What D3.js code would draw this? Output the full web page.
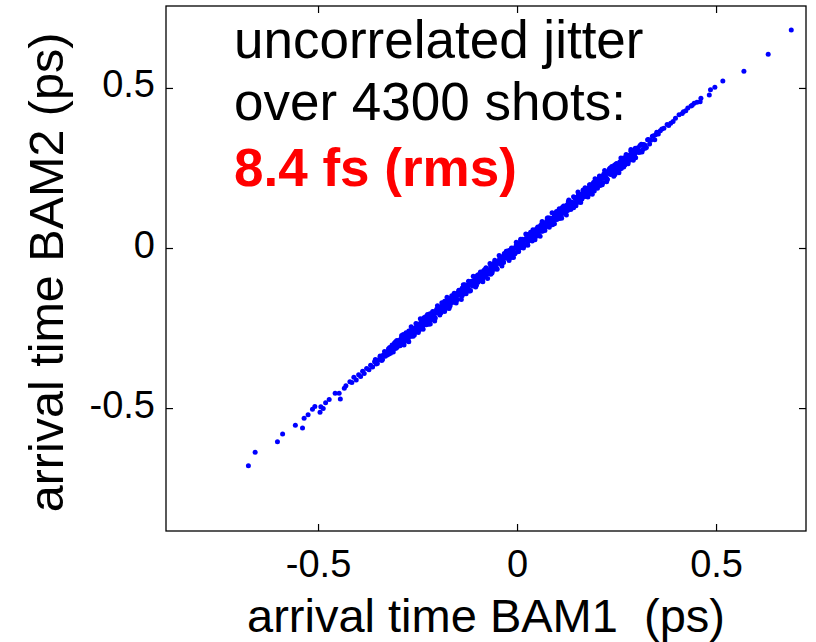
<!DOCTYPE html>
<html>
<head>
<meta charset="utf-8">
<script src="https://cdn.jsdelivr.net/npm/d3@7"></script>
<style>
  body { margin: 0; background: #fff; }
  svg { display: block; font-family: "Liberation Sans", Arial, Helvetica, sans-serif; }
</style>
</head>
<body>
<div id="chart"></div>
<script>
// arrival time BAM1 (ps), one value per plotted shot
const bam1 = [
  // lower tail
  -0.675,-0.658,-0.602,-0.589,-0.557,-0.539,-0.535,-0.525,-0.514,-0.508,-0.495,-0.493,-0.487,-0.481,-0.472,-0.457,-0.444,-0.447,-0.434,-0.430,-0.420,
  -0.415,-0.410,-0.404,-0.398,-0.393,-0.388,-0.384,-0.378,-0.372,-0.368,-0.363,-0.358,-0.354,-0.349,-0.344,-0.340,-0.336,-0.331,-0.327,-0.322,-0.318,-0.314,-0.309,-0.305,-0.301,
  // core
  -0.298,-0.295,-0.293,-0.289,-0.286,-0.284,-0.281,-0.277,-0.275,-0.272,
  -0.269,-0.266,-0.264,-0.260,-0.257,-0.255,-0.252,-0.248,-0.246,-0.243,
  -0.240,-0.237,-0.235,-0.231,-0.228,-0.226,-0.223,-0.219,-0.217,-0.214,
  -0.211,-0.208,-0.206,-0.202,-0.199,-0.197,-0.194,-0.190,-0.188,-0.185,
  -0.182,-0.179,-0.177,-0.173,-0.170,-0.168,-0.165,-0.161,-0.159,-0.156,
  -0.153,-0.150,-0.148,-0.144,-0.141,-0.139,-0.136,-0.132,-0.130,-0.127,
  -0.124,-0.121,-0.119,-0.115,-0.112,-0.110,-0.107,-0.103,-0.101,-0.098,
  -0.095,-0.092,-0.090,-0.086,-0.083,-0.081,-0.078,-0.074,-0.072,-0.069,
  -0.066,-0.063,-0.061,-0.057,-0.054,-0.052,-0.049,-0.045,-0.043,-0.040,
  -0.037,-0.034,-0.032,-0.028,-0.025,-0.023,-0.020,-0.016,-0.014,-0.011,
  -0.008,-0.005,-0.003,0.001,0.004,0.006,0.009,0.013,0.015,0.018,
  0.021,0.024,0.026,0.030,0.033,0.035,0.038,0.042,0.044,0.047,
  0.050,0.053,0.055,0.059,0.062,0.064,0.067,0.071,0.073,0.076,
  0.079,0.082,0.084,0.088,0.091,0.093,0.096,0.100,0.102,0.105,
  0.108,0.111,0.113,0.117,0.120,0.122,0.125,0.129,0.131,0.134,
  0.137,0.140,0.142,0.146,0.149,0.151,0.154,0.158,0.160,0.163,
  0.166,0.169,0.171,0.175,0.178,0.180,0.183,0.187,0.189,0.192,
  0.195,0.198,0.200,0.204,0.207,0.209,0.212,0.216,0.218,0.221,
  0.224,0.227,0.229,0.233,0.236,0.238,0.241,0.245,0.247,0.250,
  0.253,0.256,0.258,0.262,0.265,0.267,0.270,0.274,0.276,0.279,
  0.282,0.285,0.287,0.291,0.294,0.296,0.299,
  -0.327,-0.323,-0.318,-0.315,-0.309,-0.305,-0.300,-0.296,
  -0.291,-0.287,-0.282,-0.279,-0.273,-0.269,-0.264,-0.260,
  -0.255,-0.251,-0.246,-0.243,-0.237,-0.233,-0.228,-0.224,
  -0.219,-0.215,-0.210,-0.207,-0.201,-0.197,-0.192,-0.188,
  -0.183,-0.179,-0.174,-0.171,-0.165,-0.161,-0.156,-0.152,
  -0.147,-0.143,-0.138,-0.135,-0.129,-0.125,-0.120,-0.116,
  -0.111,-0.107,-0.102,-0.099,-0.093,-0.089,-0.084,-0.080,
  -0.075,-0.071,-0.066,-0.063,-0.057,-0.053,-0.048,-0.044,
  -0.039,-0.035,-0.030,-0.027,-0.021,-0.017,-0.012,-0.008,
  -0.003,0.001,0.006,0.009,0.015,0.019,0.024,0.028,
  0.033,0.037,0.042,0.045,0.051,0.055,0.060,0.064,
  0.069,0.073,0.078,0.081,0.087,0.091,0.096,0.100,
  0.105,0.109,0.114,0.117,0.123,0.127,0.132,0.136,
  0.141,0.145,0.150,0.153,0.159,0.163,0.168,0.172,
  0.177,0.181,0.186,0.189,0.195,0.199,0.204,0.208,
  0.213,0.217,0.222,0.225,0.231,0.235,0.240,0.244,
  0.249,0.253,0.258,0.261,0.267,0.271,0.276,0.280,
  0.285,0.289,0.294,0.297,0.303,0.307,0.312,0.316,
  0.321,0.325,
  -0.318,-0.314,-0.311,-0.306,-0.302,-0.298,-0.294,-0.291,-0.286,-0.282,
  -0.278,-0.274,-0.271,-0.266,-0.262,-0.258,-0.254,-0.251,-0.246,-0.242,
  -0.238,-0.234,-0.231,-0.226,-0.222,-0.218,-0.214,-0.211,-0.206,-0.202,
  -0.198,-0.194,-0.191,-0.186,-0.182,-0.178,-0.174,-0.171,-0.166,-0.162,
  -0.158,-0.154,-0.151,-0.146,-0.142,-0.138,-0.134,-0.131,-0.126,-0.122,
  -0.118,-0.114,-0.111,-0.106,-0.102,-0.098,-0.094,-0.091,-0.086,-0.082,
  -0.078,-0.074,-0.071,-0.066,-0.062,-0.058,-0.054,-0.051,-0.046,-0.042,
  -0.038,-0.034,-0.031,-0.026,-0.022,-0.018,-0.014,-0.011,-0.006,-0.002,
  0.002,0.006,0.009,0.014,0.018,0.022,0.026,0.029,0.034,0.038,
  0.042,0.046,0.049,0.054,0.058,0.062,0.066,0.069,0.074,0.078,
  0.082,0.086,0.089,0.094,0.098,0.102,0.106,0.109,0.114,0.118,
  0.122,0.126,0.129,0.134,0.138,0.142,0.146,0.149,0.154,0.158,
  0.162,0.166,0.169,0.174,0.178,0.182,0.186,0.189,0.194,0.198,
  0.202,0.206,0.209,0.214,0.218,0.222,0.226,0.229,0.234,0.238,
  0.242,0.246,0.249,0.254,0.258,0.262,0.266,0.269,0.274,0.278,
  0.282,0.286,0.289,0.294,0.298,0.302,0.306,0.309,0.314,0.318,
  // band edges
  -0.356,-0.351,-0.344,-0.338,-0.333,-0.326,-0.320,-0.315,-0.308,-0.302,-0.297,
  -0.290,-0.284,-0.279,-0.272,-0.266,-0.261,-0.254,-0.248,-0.243,-0.236,-0.230,
  -0.225,-0.218,-0.212,-0.207,-0.200,-0.194,-0.189,-0.182,-0.176,-0.171,-0.164,
  -0.158,-0.153,-0.146,-0.140,-0.135,-0.128,-0.122,-0.117,-0.110,-0.104,-0.099,
  -0.092,-0.086,-0.081,-0.074,-0.068,-0.063,-0.056,-0.050,-0.045,-0.038,-0.032,
  -0.027,-0.020,-0.014,-0.009,-0.002,0.004,0.009,0.016,0.022,0.027,0.034,
  0.040,0.045,0.052,0.058,0.063,0.070,0.076,0.081,0.088,0.094,0.099,
  0.106,0.112,0.117,0.124,0.130,0.135,0.142,0.148,0.153,0.160,0.166,
  0.171,0.178,0.184,0.189,0.196,0.202,0.207,0.214,0.220,0.225,0.232,
  0.238,0.243,0.250,0.256,0.261,0.268,0.274,0.279,0.286,0.292,0.297,
  0.304,0.310,0.315,0.322,0.328,0.333,0.340,0.346,0.351,
  // upper tail
  0.330,0.336,0.342,0.348,0.355,0.360,0.364,0.377,0.381,0.392,0.398,0.415,0.418,0.424,0.429,0.440,0.445,0.452,
  0.369,0.386,0.407,0.437,0.462,0.460,0.483,0.486,0.497,0.517,0.570,0.631,0.689
];
// arrival time BAM2 (ps), same shots
const bam2 = [
  -0.680,-0.638,-0.605,-0.581,-0.554,-0.562,-0.532,-0.521,-0.504,-0.495,-0.513,-0.496,-0.501,-0.483,-0.473,-0.454,-0.472,-0.454,-0.438,-0.430,-0.418,
  -0.420,-0.404,-0.412,-0.396,-0.401,-0.385,-0.392,-0.376,-0.380,-0.366,-0.372,-0.355,-0.362,-0.350,-0.340,-0.351,-0.334,-0.338,-0.325,-0.331,-0.316,-0.322,-0.305,-0.314,-0.300,
  -0.292,-0.304,-0.291,-0.278,-0.290,-0.296,-0.274,-0.277,-0.281,-0.259,
  -0.266,-0.276,-0.255,-0.262,-0.264,-0.250,-0.240,-0.259,-0.245,-0.235,
  -0.245,-0.250,-0.231,-0.221,-0.231,-0.220,-0.231,-0.205,-0.218,-0.223,
  -0.204,-0.206,-0.218,-0.191,-0.203,-0.194,-0.185,-0.196,-0.188,-0.195,
  -0.176,-0.188,-0.175,-0.162,-0.174,-0.180,-0.158,-0.161,-0.165,-0.143,
  -0.150,-0.160,-0.139,-0.146,-0.148,-0.134,-0.124,-0.143,-0.129,-0.119,
  -0.129,-0.134,-0.115,-0.105,-0.115,-0.104,-0.115,-0.089,-0.102,-0.107,
  -0.088,-0.090,-0.102,-0.075,-0.087,-0.078,-0.069,-0.080,-0.072,-0.079,
  -0.060,-0.072,-0.059,-0.046,-0.058,-0.064,-0.042,-0.045,-0.049,-0.027,
  -0.034,-0.044,-0.023,-0.030,-0.032,-0.018,-0.008,-0.027,-0.013,-0.003,
  -0.013,-0.018,0.001,0.011,0.001,0.012,0.001,0.027,0.014,0.009,
  0.028,0.026,0.014,0.041,0.029,0.038,0.047,0.036,0.044,0.037,
  0.056,0.044,0.057,0.070,0.058,0.052,0.074,0.071,0.067,0.089,
  0.082,0.072,0.093,0.086,0.084,0.098,0.108,0.089,0.103,0.113,
  0.103,0.098,0.117,0.127,0.117,0.128,0.117,0.143,0.130,0.125,
  0.144,0.142,0.130,0.157,0.145,0.154,0.163,0.152,0.160,0.153,
  0.172,0.160,0.173,0.186,0.174,0.168,0.190,0.187,0.183,0.205,
  0.198,0.188,0.209,0.202,0.200,0.214,0.224,0.205,0.219,0.229,
  0.219,0.214,0.233,0.243,0.233,0.244,0.233,0.259,0.246,0.241,
  0.260,0.258,0.246,0.273,0.261,0.270,0.279,0.268,0.276,0.269,
  0.288,0.276,0.289,0.302,0.290,0.284,0.306,
  -0.330,-0.315,-0.329,-0.310,-0.309,-0.293,-0.307,-0.298,
  -0.282,-0.300,-0.278,-0.278,-0.281,-0.259,-0.269,-0.254,
  -0.256,-0.238,-0.255,-0.240,-0.241,-0.222,-0.240,-0.217,
  -0.225,-0.213,-0.201,-0.217,-0.201,-0.192,-0.195,-0.176,
  -0.191,-0.178,-0.185,-0.165,-0.161,-0.164,-0.148,-0.163,
  -0.142,-0.143,-0.126,-0.142,-0.131,-0.116,-0.133,-0.112,
  -0.110,-0.115,-0.092,-0.104,-0.087,-0.090,-0.071,-0.089,
  -0.072,-0.075,-0.055,-0.075,-0.050,-0.059,-0.046,-0.035,
  -0.049,-0.035,-0.025,-0.030,-0.009,-0.025,-0.011,-0.019,
  0.003,0.005,0.003,0.017,0.004,0.024,0.024,0.040,
  0.026,0.035,0.051,0.032,0.055,0.056,0.052,0.074,
  0.064,0.079,0.077,0.094,0.078,0.094,0.092,0.111,
  0.093,0.116,0.108,0.119,0.132,0.117,0.132,0.141,
  0.138,0.157,0.142,0.154,0.148,0.169,0.172,0.169,
  0.185,0.170,0.191,0.189,0.207,0.192,0.202,0.217,
  0.200,0.221,0.223,0.217,0.241,0.230,0.246,0.243,
  0.262,0.244,0.261,0.257,0.278,0.259,0.283,0.274,
  0.287,0.298,0.284,0.297,0.308,0.304,0.324,0.308,
  0.322,0.314,
  -0.326,-0.303,-0.325,-0.301,-0.289,-0.301,-0.305,-0.283,-0.270,-0.288,
  -0.276,-0.290,-0.261,-0.274,-0.251,-0.272,-0.249,-0.238,-0.249,-0.253,
  -0.230,-0.218,-0.237,-0.224,-0.238,-0.208,-0.222,-0.200,-0.220,-0.197,
  -0.185,-0.197,-0.202,-0.178,-0.166,-0.184,-0.172,-0.187,-0.156,-0.170,
  -0.147,-0.168,-0.146,-0.133,-0.145,-0.149,-0.126,-0.115,-0.132,-0.120,
  -0.134,-0.104,-0.119,-0.095,-0.116,-0.093,-0.081,-0.094,-0.097,-0.074,
  -0.062,-0.080,-0.069,-0.082,-0.052,-0.066,-0.043,-0.065,-0.041,-0.029,
  -0.041,-0.045,-0.023,-0.010,-0.028,-0.016,-0.030,-0.001,-0.014,0.009,
  -0.012,0.011,0.022,0.011,0.007,0.030,0.042,0.023,0.036,0.022,
  0.052,0.038,0.060,0.040,0.063,0.075,0.063,0.058,0.082,0.094,
  0.076,0.088,0.073,0.104,0.090,0.113,0.092,0.114,0.127,0.115,
  0.111,0.134,0.145,0.128,0.140,0.126,0.156,0.141,0.165,0.144,
  0.167,0.179,0.166,0.163,0.186,0.198,0.180,0.191,0.178,0.208,
  0.194,0.217,0.195,0.219,0.231,0.219,0.215,0.237,0.250,0.232,
  0.244,0.230,0.259,0.246,0.269,0.248,0.271,0.282,0.271,0.267,
  0.290,0.302,0.283,0.296,0.282,0.312,0.298,0.320,0.300,0.323,
  -0.348,-0.361,-0.337,-0.348,-0.323,-0.334,-0.311,-0.323,-0.297,-0.311,-0.289,
  -0.273,-0.303,-0.265,-0.293,-0.246,-0.276,-0.236,-0.264,-0.221,-0.254,-0.215,
  -0.208,-0.237,-0.198,-0.228,-0.180,-0.209,-0.171,-0.198,-0.154,-0.189,-0.149,
  -0.141,-0.172,-0.132,-0.161,-0.115,-0.143,-0.104,-0.133,-0.088,-0.122,-0.084,
  -0.075,-0.105,-0.067,-0.095,-0.048,-0.078,-0.038,-0.066,-0.023,-0.056,-0.017,
  -0.010,-0.039,0.000,-0.030,0.018,-0.011,0.027,0.000,0.044,0.009,0.049,
  0.057,0.026,0.066,0.037,0.083,0.055,0.094,0.065,0.110,0.076,0.114,
  0.123,0.093,0.131,0.103,0.150,0.120,0.160,0.132,0.175,0.142,0.181,
  0.188,0.159,0.198,0.168,0.216,0.187,0.225,0.198,0.242,0.207,0.247,
  0.255,0.224,0.264,0.235,0.281,0.253,0.292,0.263,0.308,0.274,0.312,
  0.313,0.300,0.322,0.312,0.338,0.325,0.349,0.338,0.362,
  0.339,0.337,0.350,0.354,0.356,0.366,0.372,0.386,0.383,0.395,0.405,0.420,0.426,0.429,0.437,0.446,0.452,0.455,
  0.374,0.390,0.416,0.444,0.468,0.457,0.478,0.494,0.502,0.522,0.552,0.605,0.681
];
const xTicks = [-0.5, 0, 0.5];
const yTicks = [-0.5, 0, 0.5];
const xLabel = "arrival time BAM1  (ps)";
const yLabel = "arrival time BAM2 (ps)";
const noteLines = ["uncorrelated jitter", "over 4300 shots:"];
const noteRms = "8.4 fs (rms)";

const width = 816, height = 642;
const margin = {top: 6, right: 10, bottom: 111, left: 166};
const x = d3.scaleLinear().domain([-0.882, 0.726]).range([margin.left, width - margin.right]);
const y = d3.scaleLinear().domain([-0.884, 0.756]).range([height - margin.bottom, margin.top]);

const svg = d3.select("#chart").append("svg")
  .attr("width", width).attr("height", height);

// scatter
svg.append("g")
  .selectAll("circle")
  .data(d3.range(bam1.length))
  .join("circle")
    .attr("cx", i => x(bam1[i]))
    .attr("cy", i => y(bam2[i]))
    .attr("r", 2.5)
    .attr("fill", "#0000ff");

// inward ticks on all four sides (matlab box style)
const tick = 7, fmt = d => String(d);
const styleAxis = g => {
  g.select(".domain").remove();
  g.selectAll("line").attr("stroke", "#000").attr("stroke-width", 1.2);
  g.attr("font-family", null).attr("font-size", 38);
  g.selectAll("text").attr("fill", "#000");
};
svg.append("g")
  .attr("transform", `translate(0,${height - margin.bottom})`)
  .call(d3.axisBottom(x).tickValues(xTicks).tickSize(-tick).tickFormat(fmt))
  .call(styleAxis)
  .call(g => g.selectAll("text").attr("y", 46).attr("dy", null));
svg.append("g")
  .attr("transform", `translate(0,${margin.top})`)
  .call(d3.axisTop(x).tickValues(xTicks).tickSize(-tick).tickFormat(""))
  .call(styleAxis);
svg.append("g")
  .attr("transform", `translate(${margin.left},0)`)
  .call(d3.axisLeft(y).tickValues(yTicks).tickSize(-tick).tickFormat(fmt))
  .call(styleAxis)
  .call(g => g.selectAll("text").attr("x", -11).attr("dy", 9));
svg.append("g")
  .attr("transform", `translate(${width - margin.right},0)`)
  .call(d3.axisRight(y).tickValues(yTicks).tickSize(-tick).tickFormat(""))
  .call(styleAxis);

svg.append("rect")
  .attr("x", margin.left).attr("y", margin.top)
  .attr("width", width - margin.left - margin.right)
  .attr("height", height - margin.top - margin.bottom)
  .attr("fill", "none").attr("stroke", "#000").attr("stroke-width", 1.3);

// axis labels
svg.append("text")
  .attr("x", (margin.left + width - margin.right) / 2).attr("y", 632)
  .attr("text-anchor", "middle").attr("font-size", 47)
  .style("white-space", "pre")
  .text(xLabel);
svg.append("text")
  .attr("transform", `translate(63,${(margin.top + height - margin.bottom) / 2 + 4}) rotate(-90)`)
  .attr("text-anchor", "middle").attr("font-size", 48.5)
  .text(yLabel);

// annotation
const note = svg.append("g").attr("font-size", 53);
note.selectAll("text.line")
  .data(noteLines)
  .join("text")
    .attr("class", "line")
    .attr("x", 234).attr("y", (d, i) => 58 + i * 62)
    .text(d => d);
note.append("text")
  .attr("x", 234).attr("y", 186)
  .attr("font-weight", "bold").attr("fill", "#ff0000")
  .text(noteRms);
</script>
</body>
</html>
